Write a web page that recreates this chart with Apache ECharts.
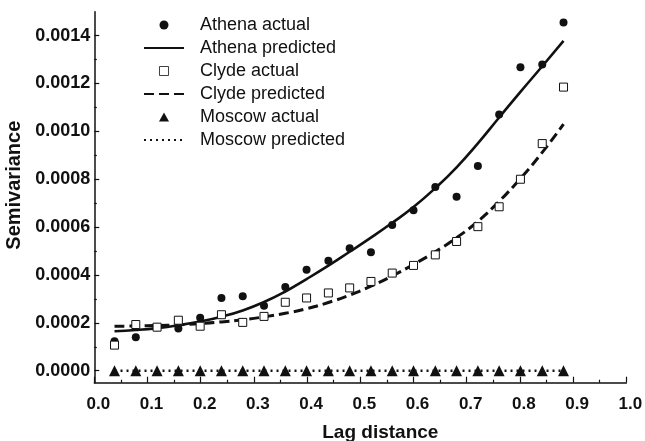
<!DOCTYPE html>
<html><head><meta charset="utf-8">
<script src="https://cdn.jsdelivr.net/npm/echarts@6/dist/echarts.min.js"></script>
<style>html,body{margin:0;padding:0;background:#fff}#c{width:645px;height:441px}</style>
</head><body><div id="c"></div>
<script>
const lagDistance = [0.038,0.078,0.118,0.158,0.199,0.239,0.279,0.319,0.359,0.399,0.440,0.480,0.520,0.560,0.600,0.641,0.681,0.721,0.761,0.801,0.842,0.882];
const athenaActual = [0.000123,0.000140,0.000182,0.000176,0.000221,0.000304,0.000311,0.000272,0.000350,0.000422,0.000460,0.000512,0.000495,0.000609,0.000671,0.000768,0.000727,0.000855,0.001071,0.001268,0.001279,0.001455];
const athenaPredicted = [0.000165,0.000170,0.000178,0.000190,0.000206,0.000226,0.000252,0.000287,0.000331,0.000383,0.000439,0.000497,0.000556,0.000618,0.000684,0.000763,0.000850,0.000950,0.001058,0.001165,0.001272,0.001378];
const clydeActual = [0.000107,0.000193,0.000182,0.000211,0.000186,0.000234,0.000202,0.000227,0.000286,0.000304,0.000325,0.000346,0.000373,0.000408,0.000440,0.000484,0.000540,0.000602,0.000685,0.000800,0.000949,0.001185];
const clydePredicted = [0.000186,0.000187,0.000189,0.000192,0.000197,0.000204,0.000213,0.000225,0.000240,0.000259,0.000285,0.000316,0.000353,0.000396,0.000444,0.000497,0.000556,0.000624,0.000708,0.000803,0.000912,0.001030];
const moscowActual = [0,0,0,0,0,0,0,0,0,0,0,0,0,0,0,0,0,0,0,0,0,0];
const moscowPredicted = [0,0,0,0,0,0,0,0,0,0,0,0,0,0,0,0,0,0,0,0,0,0];
const yLabelTicks = [0,0.0002,0.0004,0.0006,0.0008,0.0010,0.0012,0.0014];
const yMinorTicks = [0.0001,0.0003,0.0005,0.0007,0.0009,0.0011,0.0013];
const seriesNames = ['Athena actual','Athena predicted','Clyde actual','Clyde predicted','Moscow actual','Moscow predicted'];

const pairs = ys => lagDistance.map((x, i) => [x, ys[i]]);
const FONT = 'Liberation Sans, Arial, sans-serif';
const INK = '#111';
const NOFILL = 'rgba(0,0,0,0)';

const chart = echarts.init(document.getElementById('c'), null, {renderer: 'canvas'});
chart.setOption({
  backgroundColor: '#fff',
  animation: false,
  grid: {left: 94.3, right: 18.7, top: 11.7, bottom: 58.3, containLabel: false, outerBoundsMode: 'none'},
  legend: {
    orient: 'vertical', left: 143, top: 16, padding: 0,
    itemWidth: 40, itemHeight: 9, itemGap: 5,
    data: [
      {name: seriesNames[0], icon: 'circle'},
      {name: seriesNames[1]},
      {name: seriesNames[2], icon: 'path://M0,0H10V10H0Z', itemStyle: {borderWidth: 0.8}},
      {name: seriesNames[3]},
      {name: seriesNames[4], icon: 'path://M5,0L10,9H0Z'},
      {name: seriesNames[5]}
    ],
    textStyle: {fontFamily: FONT, fontSize: 18, color: INK, padding: [0,0,0,11]}
  },
  xAxis: {
    type: 'value', min: 0, max: 1, interval: 0.1,
    name: 'Lag distance', nameLocation: 'middle', nameGap: 41,
    nameTextStyle: {fontFamily: FONT, fontSize: 19, fontWeight: 'bold', color: INK, padding: [0,0,0,40]},
    axisLine: {show: true, onZero: false, lineStyle: {color: INK, width: 1.5}},
    axisTick: {show: true, inside: true, length: 6, lineStyle: {color: INK, width: 1.2}},
    minorTick: {show: true, splitNumber: 2, length: 3, lineStyle: {color: INK, width: 1.2}},
    splitLine: {show: false},
    axisLabel: {fontFamily: FONT, fontSize: 17, fontWeight: 'bold', color: INK, margin: 13,
      padding: [0,0,0,8], formatter: v => v.toFixed(1)}
  },
  yAxis: [{
    type: 'value', min: -0.00005, max: 0.0015,
    name: 'Semivariance', nameLocation: 'middle', nameRotate: 90, nameGap: 68,
    nameTextStyle: {fontFamily: FONT, fontSize: 20, fontWeight: 'bold', color: INK, padding: [0,0,0,24]},
    axisLine: {show: true, onZero: false, lineStyle: {color: INK, width: 1.5}},
    axisTick: {show: true, inside: true, length: 5, customValues: yLabelTicks, lineStyle: {color: INK, width: 1.2}},
    splitLine: {show: false},
    axisLabel: {fontFamily: FONT, fontSize: 18, fontWeight: 'bold', color: INK, margin: 4,
      customValues: yLabelTicks, formatter: v => v.toFixed(4)}
  }, {
    type: 'value', min: -0.00005, max: 0.0015, position: 'left',
    axisLine: {show: false},
    axisTick: {show: true, inside: true, length: 2.5, customValues: yMinorTicks, lineStyle: {color: INK, width: 1.2}},
    axisLabel: {show: false},
    splitLine: {show: false}
  }],
  series: [
    {name: seriesNames[0], type: 'scatter', z: 5, data: pairs(athenaActual), symbol: 'circle', symbolSize: 8,
      itemStyle: {color: INK, opacity: 1}},
    {name: seriesNames[1], type: 'line', z: 3, data: pairs(athenaPredicted), symbol: 'none', smooth: true,
      lineStyle: {color: INK, width: 2.6, type: 'solid'}, itemStyle: {color: NOFILL}},
    {name: seriesNames[2], type: 'scatter', z: 5, data: pairs(clydeActual), symbol: 'rect', symbolSize: 8,
      itemStyle: {color: '#fff', borderColor: INK, borderWidth: 1, opacity: 1}},
    {name: seriesNames[3], type: 'line', z: 3, data: pairs(clydePredicted), symbol: 'none', smooth: true,
      lineStyle: {color: INK, width: 3, type: [10, 5]}, itemStyle: {color: NOFILL}},
    {name: seriesNames[4], type: 'scatter', z: 5, data: pairs(moscowActual), symbol: 'triangle', symbolSize: 11,
      itemStyle: {color: INK, opacity: 1}},
    {name: seriesNames[5], type: 'line', z: 3, data: pairs(moscowPredicted), symbol: 'none',
      lineStyle: {color: INK, width: 2.5, type: [2, 4]}, itemStyle: {color: NOFILL}}
  ]
});
</script></body></html>
